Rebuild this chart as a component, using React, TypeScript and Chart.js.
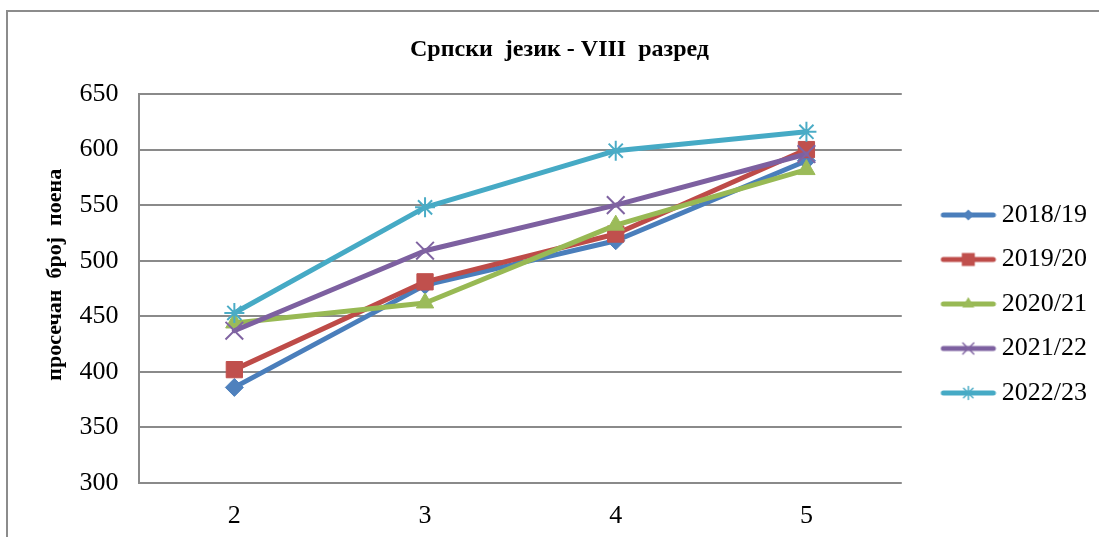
import React, { useEffect, useRef } from "react";
import { Chart, registerables } from "chart.js";

Chart.register(...registerables);

const categories = ["2", "3", "4", "5"];
const seriesLabels = ["2018/19", "2019/20", "2020/21", "2021/22", "2022/23"];
const values2018 = [386, 478, 518, 590];
const values2019 = [402, 481, 524, 600];
const values2020 = [444, 462, 532, 582];
const values2021 = [437, 509, 550, 596];
const values2022 = [453, 548, 599, 616];
const allValues = [values2018, values2019, values2020, values2021, values2022];

const lineColors = ["#4A7EBB", "#BE4B48", "#98B954", "#7D60A0", "#46AAC5"];
const markerColors = ["#4F81BD", "#C0504D", "#9BBB59", "#8064A2", "#4BACC6"];
const markerStyles = ["rectRot", "rect", "triangle", "crossRot", "star"];
const markerRadii = [9, 11.5, 10, 12.5, 10];
const markerBorders = [1, 1, 1, 2, 2];

const yMin = 300;
const yMax = 650;
const yStep = 50;

const chartTitle = "Српски  језик - VIII  разред";
const yAxisTitle = "     просечан  број  поена";

const FONT = "'Liberation Serif', 'Times New Roman', serif";

function makeLegendIcon(lineColor: string, fill: string, style: string): HTMLCanvasElement {
  const c = document.createElement("canvas");
  c.width = 84;
  c.height = 24;
  const ctx = c.getContext("2d")!;
  const cy = 12;
  ctx.strokeStyle = lineColor;
  ctx.lineWidth = 5;
  ctx.lineCap = "round";
  ctx.beginPath();
  ctx.moveTo(30.75, cy);
  ctx.lineTo(80.75, cy);
  ctx.stroke();
  const cx = 55.75;
  ctx.fillStyle = fill;
  ctx.strokeStyle = fill;
  ctx.lineWidth = 1.5;
  ctx.beginPath();
  if (style === "rectRot") {
    const r = 5.5;
    ctx.moveTo(cx, cy - r);
    ctx.lineTo(cx + r, cy);
    ctx.lineTo(cx, cy + r);
    ctx.lineTo(cx - r, cy);
    ctx.closePath();
    ctx.fill();
  } else if (style === "rect") {
    const r = 6.5;
    ctx.rect(cx - r, cy - r, 2 * r, 2 * r);
    ctx.fill();
  } else if (style === "triangle") {
    const r = 7;
    ctx.moveTo(cx, cy - r);
    ctx.lineTo(cx + r * 0.866, cy + r * 0.5);
    ctx.lineTo(cx - r * 0.866, cy + r * 0.5);
    ctx.closePath();
    ctx.fill();
  } else if (style === "crossRot") {
    const r = 5.5;
    ctx.moveTo(cx - r, cy - r);
    ctx.lineTo(cx + r, cy + r);
    ctx.moveTo(cx + r, cy - r);
    ctx.lineTo(cx - r, cy + r);
    ctx.stroke();
  } else {
    const r = 6.5;
    const d = r * 0.72;
    ctx.moveTo(cx, cy - r);
    ctx.lineTo(cx, cy + r);
    ctx.moveTo(cx - d, cy - d);
    ctx.lineTo(cx + d, cy + d);
    ctx.moveTo(cx + d, cy - d);
    ctx.lineTo(cx - d, cy + d);
    ctx.stroke();
  }
  return c;
}

const framePlugin = {
  id: "frame",
  beforeDraw(chart: any) {
    const ctx = chart.ctx;
    ctx.save();
    ctx.strokeStyle = "#8c8c8c";
    ctx.lineWidth = 2;
    ctx.beginPath();
    ctx.moveTo(7, chart.height + 5);
    ctx.lineTo(7, 11);
    ctx.lineTo(chart.width + 5, 11);
    ctx.stroke();
    ctx.restore();
  },
};

export default function App() {
  const canvasRef = useRef<HTMLCanvasElement | null>(null);

  useEffect(() => {
    document.body.style.margin = "0";
    document.body.style.overflow = "hidden";
    const canvas = canvasRef.current;
    if (!canvas) return;

    const icons = seriesLabels.map((_, i) =>
      makeLegendIcon(lineColors[i], markerColors[i], markerStyles[i])
    );

    const datasets = seriesLabels.map((label, i) => ({
      label,
      data: allValues[i],
      borderColor: lineColors[i],
      backgroundColor: markerColors[i],
      borderWidth: 5,
      borderJoinStyle: "round" as const,
      borderCapStyle: "round" as const,
      pointStyle: markerStyles[i] as any,
      pointRadius: markerRadii[i],
      pointHoverRadius: markerRadii[i],
      pointBackgroundColor: markerColors[i],
      pointBorderColor: markerColors[i],
      pointBorderWidth: markerBorders[i],
      tension: 0,
      order: seriesLabels.length - i,
      fill: false,
    }));

    const chart = new Chart(canvas, {
      type: "line",
      data: { labels: categories, datasets },
      plugins: [framePlugin],
      options: {
        animation: false,
        responsive: true,
        maintainAspectRatio: false,
        events: [],
        layout: { padding: { left: 22, right: 2, top: 0, bottom: 0 } },
        plugins: {
          title: {
            display: true,
            text: chartTitle,
            color: "#000",
            font: { family: FONT, size: 24, weight: "bold" },
            padding: { top: 35.6, bottom: 29.6 },
          },
          legend: {
            display: true,
            position: "right",
            align: "center",
            title: {
              display: true,
              text: " ",
              font: { family: FONT, size: 12 },
              padding: { top: 56.6, bottom: 0 },
            },
            labels: {
              usePointStyle: true,
              pointStyleWidth: 68.5,
              padding: 18.5,
              color: "#000",
              font: { family: FONT, size: 26 },
              sort: (a: any, b: any) => a.datasetIndex - b.datasetIndex,
              generateLabels: (ch: any) => {
                const items = (Chart.defaults.plugins.legend.labels as any).generateLabels(ch);
                return items.map((it: any) => ({
                  ...it,
                  pointStyle: icons[it.datasetIndex],
                  fontColor: "#000",
                }));
              },
            },
          },
          tooltip: { enabled: false },
        },
        scales: {
          x: {
            type: "category",
            offset: true,
            grid: { display: false, drawTicks: false },
            border: { display: false },
            ticks: {
              color: "#000",
              font: { family: FONT, size: 26 },
              padding: 18,
            },
            afterFit: (s: any) => {
              s.height = 54;
            },
          },
          y: {
            min: yMin,
            max: yMax,
            ticks: {
              stepSize: yStep,
              color: "#000",
              font: { family: FONT, size: 26 },
              padding: 20.5,
            },
            grid: { color: "#8a8a8a", lineWidth: 2, drawTicks: false },
            border: { display: true, color: "#8a8a8a", width: 2 },
            title: {
              display: true,
              text: yAxisTitle,
              color: "#000",
              font: { family: FONT, size: 22, weight: "bold" },
              padding: { top: 20, bottom: 0 },
            },
            afterFit: (s: any) => {
              s.width = 117;
            },
          },
        },
      },
    });

    return () => {
      chart.destroy();
    };
  }, []);

  return (
    <div style={{ position: "relative", width: "1099px", height: "537px" }}>
      <canvas ref={canvasRef} />
    </div>
  );
}
